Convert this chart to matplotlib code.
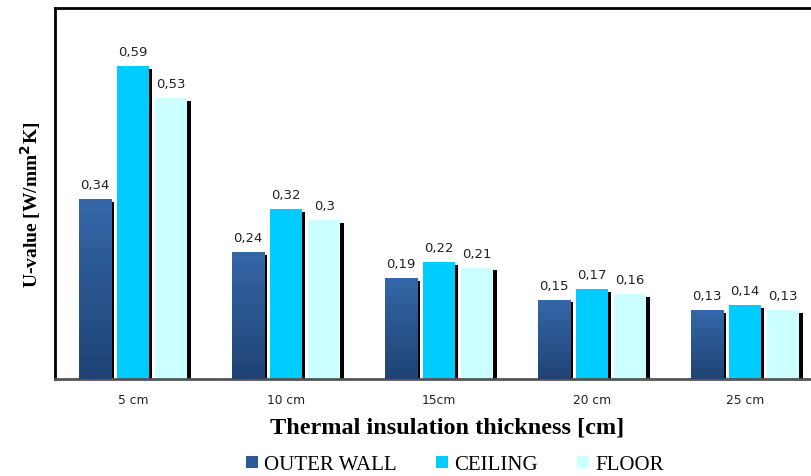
import numpy as np
import matplotlib
matplotlib.use("Agg")
import matplotlib.pyplot as plt
import matplotlib.patheffects as pe
from matplotlib.patches import Patch
from matplotlib.colors import LinearSegmentedColormap

categories = ["5 cm", "10 cm", "15cm", "20 cm", "25 cm"]
series_names = ["OUTER WALL", "CEILING", "FLOOR"]
outer_wall = [0.34, 0.24, 0.19, 0.15, 0.13]
ceiling = [0.59, 0.32, 0.22, 0.17, 0.14]
floor_vals = [0.53, 0.30, 0.21, 0.16, 0.13]

W, H = 812, 476
fig = plt.figure(figsize=(W / 100, H / 100), dpi=100)
left, bottom, top = 55, 379, 8
n = len(categories)
unit = 153.0
ax = fig.add_axes([left / W, (H - bottom) / H, (n * unit) / W, (bottom - top) / H])

x = np.arange(n)
bw = 0.21
step = 0.25
shadow = [pe.SimplePatchShadow(offset=(2.3, -2.0), shadow_rgbFace="black", alpha=1.0), pe.Normal()]

cmap = LinearSegmentedColormap.from_list("ow", ["#1f4374", "#3567a8"])
colors = [None, "#00ccff", "#ccffff"]
data = [outer_wall, ceiling, floor_vals]

for i, vals in enumerate(data):
    pos = x + (i - 1) * step
    if i == 0:
        bars = ax.bar(pos, vals, width=bw, color="#2d5a96", zorder=2)
    else:
        bars = ax.bar(pos, vals, width=bw, color=colors[i], zorder=2)
    for b, v in zip(bars, vals):
        b.set_path_effects(shadow)
        if i == 0:
            x0 = b.get_x()
            grad = np.linspace(0, 1, 100).reshape(-1, 1)
            im = ax.imshow(grad, cmap=cmap, origin="lower", aspect="auto",
                           extent=(x0, x0 + b.get_width(), 0, v), zorder=3)
            im.set_clip_path(b)
        ax.annotate(("%g" % v).replace(".", ","), (b.get_x() + b.get_width() / 2, v),
                    xytext=(0, 5), textcoords="offset points", ha="center", va="bottom",
                    fontsize=9.5, color="#222222", family="DejaVu Sans")

ax.set_xlim(-0.51, n - 0.51)
ax.set_ylim(0, 0.70)
ax.set_xticks(x)
ax.set_xticklabels(categories, fontsize=8.8, family="DejaVu Sans", color="#222222")
ax.tick_params(axis="x", length=0, pad=11)
ax.set_yticks([])
for s in ["left", "top", "right"]:
    ax.spines[s].set_linewidth(2.0)
    ax.spines[s].set_color("black")
ax.spines["bottom"].set_linewidth(2.0)
ax.spines["bottom"].set_color("#555555")

ax.set_ylabel("U-value [W/mm$^{\\mathbf{2}}$K]", family="Liberation Serif", fontweight="bold", fontsize=14)
ax.yaxis.set_label_coords(-0.016, 0.47)
ax.set_xlabel("Thermal insulation thickness [cm]", family="Liberation Serif", fontweight="bold", fontsize=17.5)
ax.xaxis.set_label_coords((447 - left) / (n * unit), -(428 - bottom) / (bottom - top))
ax.xaxis.label.set_va("center")

handles = [Patch(facecolor="#2d5a96"), Patch(facecolor="#00ccff"), Patch(facecolor="#ccffff")]
fig.legend(handles, series_names, loc="center", bbox_to_anchor=(455 / W, 1 - 465 / H), ncol=3,
           frameon=False, prop={"family": "Liberation Serif", "size": 15},
           handlelength=0.55, handleheight=0.55, handletextpad=0.3, columnspacing=1.9)

fig.savefig("out.png", dpi=100)
